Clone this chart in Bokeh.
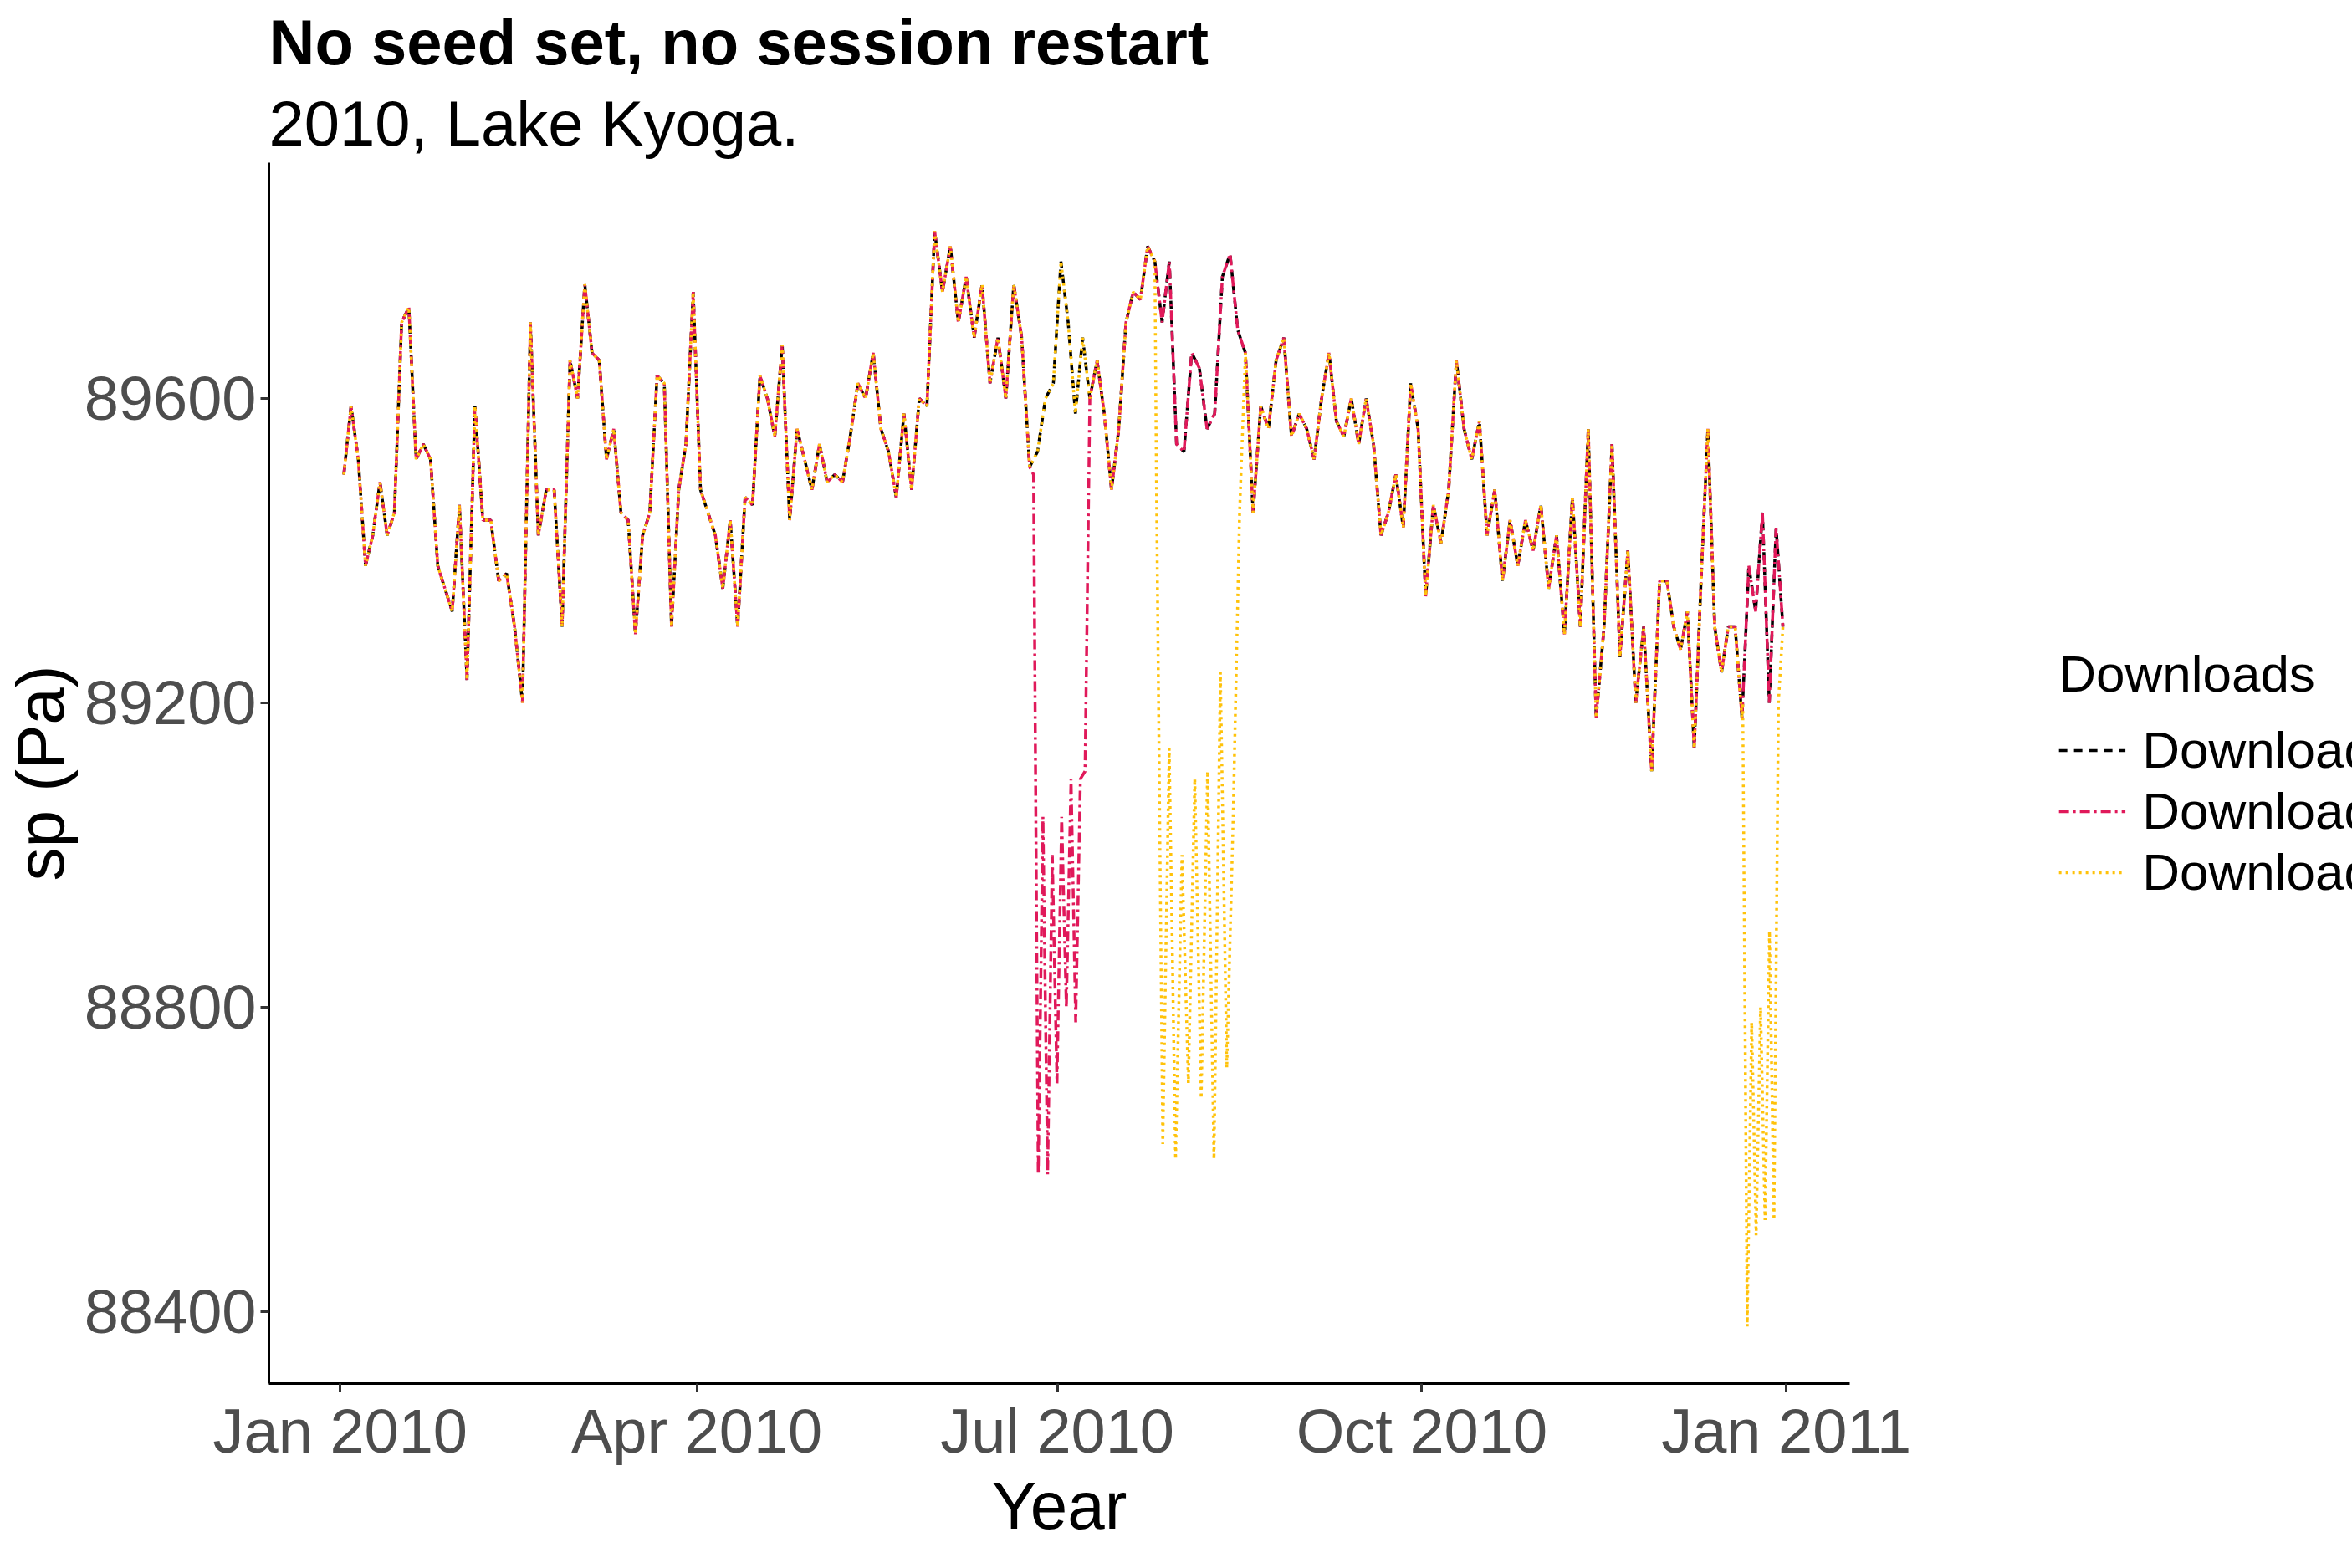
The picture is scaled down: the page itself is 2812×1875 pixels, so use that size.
import pandas as pd
from bokeh.plotting import figure
from bokeh.models import Legend, LegendItem, Title, FixedTicker, Range1d, ColumnDataSource
from bokeh.embed import file_html
from bokeh.resources import INLINE

# base surface pressure per month (Pa)
months = ["2010-01", "2010-02", "2010-03", "2010-04", "2010-05", "2010-06",
          "2010-07", "2010-08", "2010-09", "2010-10", "2010-11", "2010-12"]
sp_monthly = [
    [89500, 89590, 89520, 89380, 89420, 89490, 89420, 89450, 89700, 89720, 89520, 89540, 89520, 89380, 89350, 89320, 89460],
    [89230, 89590, 89440, 89440, 89360, 89370, 89300, 89200, 89700, 89420, 89480, 89480, 89300, 89650],
    [89600, 89750, 89660, 89650, 89520, 89560, 89450, 89440, 89290, 89420, 89450, 89630, 89620, 89300, 89480, 89540, 89740],
    [89480, 89450, 89420, 89350, 89440, 89300, 89470, 89460, 89630, 89600, 89550, 89670, 89440, 89560, 89520, 89480],
    [89540, 89490, 89500, 89490, 89550, 89620, 89600, 89660, 89560, 89530, 89470, 89580, 89480, 89600, 89590, 89820],
    [89740, 89800, 89700, 89760, 89680, 89750, 89620, 89680, 89600, 89750, 89680, 89510, 89530, 89600, 89620],
    [89780, 89700, 89580, 89680, 89600, 89650, 89580, 89480, 89560, 89700, 89740, 89730, 89800, 89780, 89700, 89780, 89540],
    [89530, 89660, 89640, 89560, 89580, 89760, 89790, 89690, 89660, 89450, 89590, 89560, 89650, 89680, 89550, 89580],
    [89560, 89520, 89600, 89660, 89570, 89550, 89600, 89540, 89600, 89540, 89420, 89450, 89500, 89430, 89620, 89560],
    [89340, 89460, 89410, 89480, 89650, 89560, 89520, 89570, 89420, 89480, 89360, 89440, 89380, 89440, 89400, 89460],
    [89350, 89420, 89290, 89470, 89300, 89560, 89180, 89300, 89540, 89260, 89400, 89200, 89300, 89110, 89360],
    [89360, 89300, 89270, 89320, 89140, 89360, 89560, 89300, 89240, 89300, 89300, 89180, 89380, 89320, 89450, 89200, 89430, 89300],
]

# windows where a download diverges from the others
e_window = ("2010-06-25", "2010-07-08")
e_vals = [89500, 88580, 89050, 88580, 89000, 88700, 89050, 88800, 89100, 88780, 89100, 89110]
f_window1 = ("2010-07-26", "2010-08-16")
f_vals1 = [89500, 88620, 89140, 88600, 89000, 88700, 89100, 88680, 89110, 88600, 89240, 88720, 89050, 89450]
f_window2 = ("2010-12-21", "2010-12-30")
f_vals2 = [89200, 88380, 88780, 88500, 88800, 88520, 88900, 88520, 89200]

dates, vals = [], []
for m, v in zip(months, sp_monthly):
    start = pd.Timestamp(m + "-01")
    ndays = start.days_in_month
    for k, x in enumerate(v):
        dates.append(start + pd.Timedelta(days=(k + 0.5) * ndays / len(v)))
        vals.append(x)
base = pd.DataFrame({"date": dates, "sp": vals})


def with_window(df, window, wvals):
    a, b = pd.Timestamp(window[0]), pd.Timestamp(window[1])
    keep = df[(df.date < a) | (df.date > b)]
    step = (b - a) / (len(wvals) - 1)
    w = pd.DataFrame({"date": [a + step * i for i in range(len(wvals))], "sp": wvals})
    return pd.concat([keep, w]).sort_values("date")


d_df = base
e_df = with_window(base, e_window, e_vals)
f_df = with_window(with_window(base, f_window1, f_vals1), f_window2, f_vals2)

p = figure(frame_width=1890, frame_height=1460, x_axis_type="datetime", output_backend="svg",
           toolbar_location=None, background_fill_color="white", border_fill_color="white")
p.x_range = Range1d(pd.Timestamp("2009-12-14"), pd.Timestamp("2011-01-17"))
p.y_range = Range1d(88305, 89910)
p.grid.visible = False
p.outline_line_color = None
p.min_border_left = 20
p.min_border_bottom = 30
p.min_border_right = 10

rd = p.line("date", "sp", source=ColumnDataSource(d_df), color="black", line_width=3.5, line_dash="10 8")
re = p.line("date", "sp", source=ColumnDataSource(e_df), color="#E0195A", line_width=3.5, line_dash="12 5 3 5")
rf = p.line("date", "sp", source=ColumnDataSource(f_df), color="#FFC20A", line_width=3.5, line_dash="3 5")

tick_dates = ["2010-01-01", "2010-04-01", "2010-07-01", "2010-10-01", "2011-01-01"]
tick_labels = ["Jan 2010", "Apr 2010", "Jul 2010", "Oct 2010", "Jan 2011"]
tms = [pd.Timestamp(t).value / 1e6 for t in tick_dates]
p.xaxis.ticker = FixedTicker(ticks=tms)
p.xaxis.major_label_overrides = {t: l for t, l in zip(tms, tick_labels)}
p.yaxis.ticker = FixedTicker(ticks=[88400, 88800, 89200, 89600])

for ax in (p.xaxis, p.yaxis):
    ax.axis_line_color = "black"
    ax.axis_line_width = 3
    ax.major_tick_line_color = "#333333"
    ax.major_tick_line_width = 3
    ax.major_tick_out = 10
    ax.major_tick_in = 0
    ax.minor_tick_line_color = None
    ax.major_label_text_font = "Liberation Sans"
    ax.major_label_text_font_size = "74px"
    ax.major_label_text_color = "#4D4D4D"
    ax.axis_label_text_font = "Liberation Sans"
    ax.axis_label_text_font_size = "80px"
    ax.axis_label_text_font_style = "normal"
    ax.axis_label_text_color = "black"
p.xaxis.axis_label = "Year"
p.yaxis.axis_label = "sp (Pa)"
p.xaxis.axis_label_standoff = 0

legend = Legend(items=[LegendItem(label="Download D", renderers=[rd]),
                       LegendItem(label="Download E", renderers=[re]),
                       LegendItem(label="Download F", renderers=[rf])],
                title="Downloads", location="center", border_line_color=None,
                label_text_font="Liberation Sans", label_text_font_size="62px",
                label_text_color="black", title_text_color="black",
                title_text_font="Liberation Sans", title_text_font_size="62px",
                title_text_font_style="normal", glyph_width=80, label_height=60,
                label_standoff=20, spacing=2, glyph_height=60, padding=10, margin=40,
                title_standoff=20)
p.add_layout(legend, "right")

p.add_layout(Title(text="2010, Lake Kyoga.", text_font="Liberation Sans", text_color="black",
                   text_font_size="76px", text_font_style="normal"), "above")
p.add_layout(Title(text="No seed set, no session restart", text_font="Liberation Sans",
                   text_color="black", text_font_size="76px", text_font_style="bold"), "above")

open("out.html", "w").write(file_html(p, INLINE))
